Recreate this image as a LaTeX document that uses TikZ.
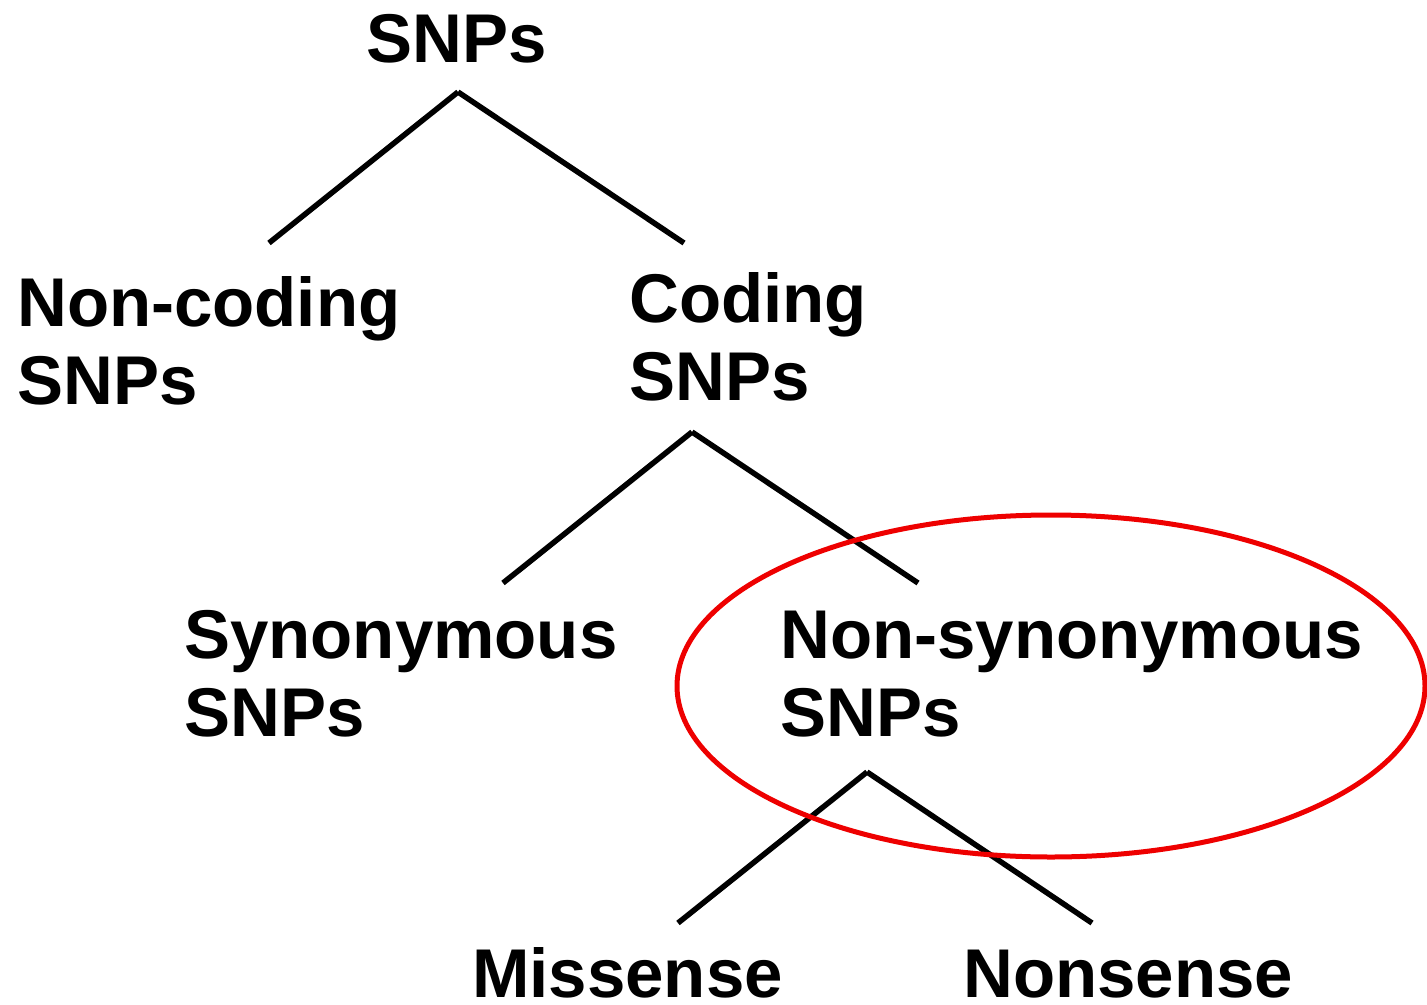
\documentclass[tikz,border=0pt]{standalone}
\usepackage{fontspec}
\setmainfont{Liberation Sans}
\begin{document}
\begin{tikzpicture}[x=1pt,y=-1pt,
  lbl/.style={anchor=base west,inner sep=0pt,align=left,font=\fontsize{69}{78}\selectfont\bfseries},
  branch/.style={line width=5.5pt,black},
  ring/.style={line width=5pt,draw={rgb,255:red,238;green,0;blue,0}}]
\path[use as bounding box] (0,0) rectangle (1427,1004);
\node[lbl] (root) at (366,62) {SNPs};
\node[lbl] (nc) at (17,404) {Non-coding\\SNPs};
\node[lbl] (cod) at (629,400) {Coding\\SNPs};
\node[lbl] (syn) at (184,736) {Synonymous\\SNPs};
\node[lbl] (ns) at (780,736) {Non-synonymous\\SNPs};
\node[lbl] (mis) at (472,997) {Missense};
\node[lbl] (non) at (963,997) {Nonsense};
\coordinate (a1) at (458,92);
\coordinate (a1l) at (269,243);
\coordinate (a1r) at (684,243);
\coordinate (a2) at (692,432);
\coordinate (a2l) at (503,583);
\coordinate (a2r) at (918,583);
\coordinate (a3) at (867,772);
\coordinate (a3l) at (678,923);
\coordinate (a3r) at (1092,923);
\draw[branch] (a1) -- (a1l);
\draw[branch] (a1) -- (a1r);
\draw[branch] (a2) -- (a2l);
\draw[branch] (a2) -- (a2r);
\draw[branch] (a3) -- (a3l);
\draw[branch] (a3) -- (a3r);
\draw[ring] (1051,686) ellipse [x radius=374, y radius=171];
\end{tikzpicture}
\end{document}
